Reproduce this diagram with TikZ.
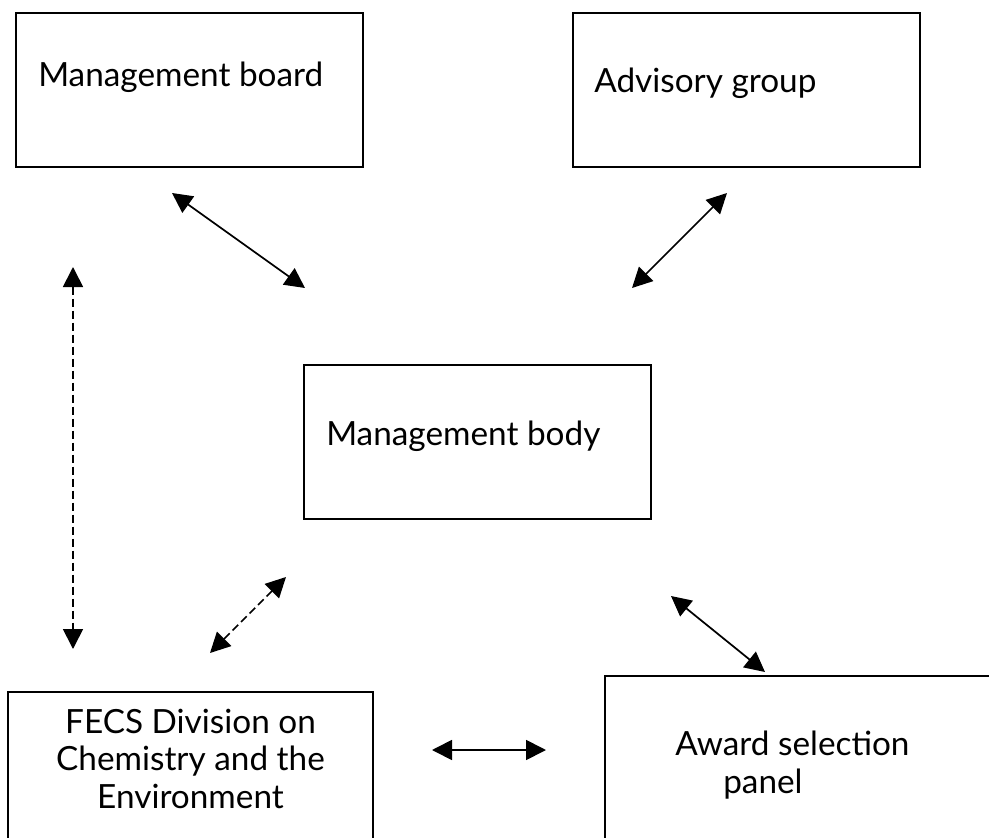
\documentclass[tikz,border=0pt]{standalone}
\usepackage{fontspec}
\setmainfont{Lato}
\usetikzlibrary{arrows.meta}
\begin{document}
\begin{tikzpicture}[x=0.75pt,y=-0.75pt,
  box/.style={draw=black,line width=1.5pt,rectangle,inner sep=0pt,outer sep=0pt,anchor=north west},
  lbl/.style={inner sep=0pt,font=\fontsize{25}{30}\selectfont},
  link/.style={line width=1.3pt,{Triangle[length=15pt,width=15pt]}-{Triangle[length=15pt,width=15pt]}},
  dlink/.style={link,dash pattern=on 6pt off 3pt}]
\useasboundingbox (0,0) rectangle (989,838);
\clip (0,0) rectangle (989,838);

% boxes
\node[box,minimum width=260.25pt,minimum height=115.5pt] (board) at (16,13) {};
\node[box,minimum width=260.25pt,minimum height=115.5pt] (advisory) at (573,13) {};
\node[box,minimum width=260.25pt,minimum height=115.5pt] (body) at (304,365) {};
\node[box,minimum width=273.75pt,minimum height=150pt] (fecs) at (8,692) {};
\node[box,minimum width=315pt,minimum height=150pt] (award) at (605,676) {};

% labels
\node[lbl,anchor=base west] (tboard) at (38,87) {Management board};
\node[lbl,anchor=base west] (tadvisory) at (594,93) {Advisory group};
\node[lbl,anchor=base west] (tbody) at (326,445) {Management body};
\node[lbl,anchor=base] (tfecsa) at (190.5,733) {FECS Division on};
\node[lbl,anchor=base] (tfecsb) at (190.5,770) {Chemistry and the};
\node[lbl,anchor=base] (tfecsc) at (190.5,808) {Environment};
\node[lbl,anchor=base west] (tawarda) at (675,755) {Award selection};
\node[lbl,anchor=base west] (tawardb) at (723,793) {panel};

% connector end points
\coordinate (b1) at (172,193);
\coordinate (b2) at (305,288);
\coordinate (a1) at (727,193);
\coordinate (a2) at (632,288);
\coordinate (v1) at (73,267);
\coordinate (v2) at (73,649);
\coordinate (d1) at (286,577);
\coordinate (d2) at (210,653);
\coordinate (w1) at (671,596);
\coordinate (w2) at (765,672);
\coordinate (h1) at (432,750);
\coordinate (h2) at (546,750);

% connectors
\draw[link] (b1) -- (b2);
\draw[link] (a1) -- (a2);
\draw[dlink] (v1) -- (v2);
\draw[dlink] (d1) -- (d2);
\draw[link] (w1) -- (w2);
\draw[link] (h1) -- (h2);
\end{tikzpicture}
\end{document}
